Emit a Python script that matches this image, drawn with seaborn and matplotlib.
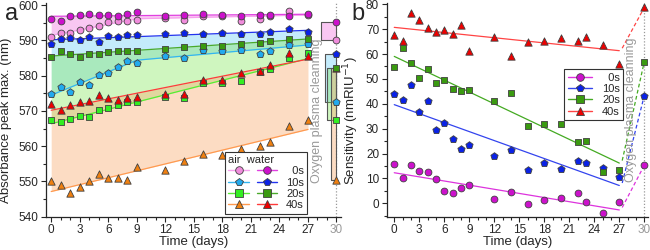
import numpy as np
import matplotlib
matplotlib.use("Agg")
import matplotlib.pyplot as plt
import seaborn as sns
from matplotlib.colors import to_rgba
from matplotlib.lines import Line2D
from matplotlib.legend_handler import HandlerTuple
from matplotlib.ticker import MultipleLocator

# measurement days and the day after oxygen plasma cleaning
days = [0, 1, 2, 3, 4, 5, 6, 7, 8, 9, 12, 14, 16, 18, 20, 22, 23, 25, 27]
clean_day = 30
labels = ["\u20070s", "10s", "20s", "40s"]

# (a) absorbance peak maximum (nm), stored in air / water
air_0s = [591.1, 592.0, 592.2, 593.0, 593.6, 594.1, 595.3, 595.5, 595.6, 595.8,
          596.4, 595.8, 597.0, 597.0, 595.6, 596.1, 596.9, 598.3, 597.3]
water_0s = [596.2, 595.4, 596.9, 597.2, 597.6, 597.2, 597.1, 596.9, 597.5, 598.0,
            596.9, 597.2, 597.4, 597.3, 597.0, 597.2, 597.2, 596.9, 597.5]
air_10s = [574.8, 576.9, 575.4, 578.1, 577.4, 580.2, 580.7, 582.4, 584.2, 583.6,
           585.6, 585.0, 587.4, 586.9, 587.3, 586.2, 587.1, 588.6, 589.0]
water_10s = [589.1, 590.5, 590.8, 590.1, 590.9, 589.6, 591.2, 591.1, 591.4, 591.4,
             591.7, 592.0, 591.9, 592.1, 591.8, 591.7, 592.4, 593.1, 592.5]
air_20s = [567.5, 566.9, 567.7, 568.6, 568.3, 570.3, 570.7, 571.7, 572.6, 572.4,
           574.0, 573.6, 578.0, 577.9, 578.4, 581.0, 582.0, 585.0, 586.4]
water_20s = [585.4, 587.1, 586.2, 585.2, 586.0, 586.0, 586.8, 586.9, 587.1, 587.1,
             587.6, 588.1, 588.4, 588.5, 588.9, 589.4, 589.8, 590.5, 590.5]
air_40s = [550.0, 549.0, 546.8, 548.4, 550.1, 552.0, 550.9, 550.9, 550.5, 554.0,
           553.3, 555.7, 557.9, 557.5, 559.3, 560.0, 561.2, 565.6, 567.5]
water_40s = [572.0, 570.3, 571.7, 572.4, 572.9, 574.5, 573.8, 573.1, 573.8, 573.9,
             574.9, 574.9, 578.9, 578.7, 580.7, 581.3, 582.9, 586.4, 585.7]
# after cleaning (0s, 10s, 20s, 40s)
air_after = [590.1, 572.4, 567.5, 550.3]
water_after = [595.3, 586.2, 582.2, 582.2]

# (b) sensitivity (nm/RIU)
sens_0s = [15.6, 10.3, 15.3, 13.1, 12.7, 9.6, 5.1, 4.3, 6.3, 7.3,
           1.6, 4.7, -0.4, 1.3, 2.0, 4.3, 0.7, -4.0, 0.7]
sens_10s = [44.0, 41.6, 47.6, 36.7, 41.3, 29.3, 32.3, 26.0, 22.0, 23.6,
            18.9, 21.6, 13.3, 16.0, 13.7, 16.9, 16.4, 14.3, 10.7]
sens_20s = [54.9, 62.4, 56.5, 50.4, 54.0, 48.3, 49.7, 46.0, 45.1, 45.6,
            41.3, 44.4, 30.9, 32.0, 32.0, 24.7, 25.1, 12.7, 13.3]
sens_40s = [67.6, 65.3, 76.4, 73.7, 70.4, 68.7, 69.7, 68.0, 71.6, 61.3,
            66.7, 59.3, 64.7, 65.3, 66.3, 65.1, 66.7, 63.6, 56.0]
sens_after = [15.3, 43.3, 56.9, 78.7]

# styles
markers = ["o", "p", "s", "^"]
msize = [24, 30, 20, 28]
air_face = ["#f08cdc", "#22aaee", "#33ee22", "#f08010"]
air_line = ["#f7a0ee", "#33b5f0", "#55ee33", "#ff9a50"]
water_face = ["#cc11cc", "#0a22e6", "#3a9a10", "#ee0000"]
water_line = ["#e040e0", "#2233ee", "#4aaa2a", "#ff3a3a"]
band = [to_rgba("#f59ae8", 0.55), to_rgba("#6ccdf5", 0.4),
        to_rgba("#77e84a", 0.35), to_rgba("#f9b27a", 0.45)]
box_left = [28.4, 28.75, 29.05, 29.4]
edge = "#404040"
gray = "#999999"


def linear_fit(x, y, xn):
    k, b = np.polyfit(x, y, 1)
    return k * xn + b


def hinge_fit(x, y, xn, knot=9):
    x = np.asarray(x, float)
    A = np.column_stack([np.ones_like(x), x, np.clip(x - knot, 0, None)])
    c, *_ = np.linalg.lstsq(A, np.asarray(y, float), rcond=None)
    return c[0] + c[1] * xn + c[2] * np.clip(xn - knot, 0, None)


def scatter(ax, x, y, m, c, s, z=4):
    sns.scatterplot(x=x, y=y, ax=ax, marker=m, color=c, edgecolor=edge,
                    linewidth=0.6, s=s, zorder=z, legend=False)


def style_axis(ax):
    sns.despine(ax=ax)
    ax.xaxis.set_major_locator(MultipleLocator(3))
    ax.xaxis.set_minor_locator(MultipleLocator(1))
    ax.tick_params(which="both", direction="out", width=0.8, labelsize=8.5,
                   pad=2)
    ax.tick_params(which="major", length=3.5)
    ax.tick_params(which="minor", length=2)
    for s in ("left", "bottom"):
        ax.spines[s].set_linewidth(0.9)
    ax.axvline(clean_day, color=gray, ls=(0, (1, 1.5)), lw=0.9, zorder=0)
    ax.set_xticks(range(0, 31, 3))
    ax.get_xticklabels()[-1].set_color(gray)
    ax.set_xlabel("Time (days)", fontsize=9.5, labelpad=0)


sns.set_style("ticks")
plt.rcParams["font.family"] = ["Liberation Sans", "DejaVu Sans"]

fig = plt.figure(figsize=(6.5, 2.5), dpi=100)
ax_a = fig.add_axes([0.071, 0.133, 0.454, 0.855])
ax_b = fig.add_axes([0.595, 0.133, 0.402, 0.855])

# ---- panel a ----
t = np.linspace(0, 27, 200)
air_a = [air_0s, air_10s, air_20s, air_40s]
water_a = [water_0s, water_10s, water_20s, water_40s]
for i in range(4):
    fit = hinge_fit if i < 2 else linear_fit
    ya = fit(days, air_a[i], t)
    yw = linear_fit(days, water_a[i], t)
    ax_a.fill_between(t, ya, yw, color=band[i], lw=0, zorder=1)
    ax_a.plot(t, ya, color=air_line[i], lw=0.9, zorder=2)
    ax_a.plot(t, yw, color=water_line[i], lw=0.9, zorder=2)

for i in range(4):
    ax_a.fill_between([box_left[i], clean_day], air_after[i], water_after[i],
                      facecolor=band[i], edgecolor="#555555", lw=0.8, zorder=2)

for i in range(4):
    scatter(ax_a, days, air_a[i], markers[i], air_face[i], msize[i])
    scatter(ax_a, days, water_a[i], markers[i], water_face[i], msize[i])
for i in [3, 0, 1, 2]:
    scatter(ax_a, [clean_day], [water_after[i]], markers[i], water_face[i], msize[i], 5)
    scatter(ax_a, [clean_day], [air_after[i]], markers[i], air_face[i], msize[i], 5)

ax_a.text(27.9, 570, "Oxygen plasma cleanning", rotation=90, ha="center",
          va="center", color=gray, fontsize=9)
ax_a.set_xlim(-0.53, 30.5)
ax_a.set_ylim(540, 600.6)
ax_a.yaxis.set_major_locator(MultipleLocator(10))
ax_a.yaxis.set_minor_locator(MultipleLocator(5))
style_axis(ax_a)
ax_a.set_ylabel("Absorbance peak max. (nm)", fontsize=9.5, labelpad=2)
ax_a.yaxis.set_label_coords(-0.115, 0.45)

handles = []
for i in range(4):
    ha = Line2D([], [], color=air_line[i], lw=1, marker=markers[i],
                mfc=air_face[i], mec=edge, mew=0.6, ms=5.5)
    hw = Line2D([], [], color=water_line[i], lw=1, marker=markers[i],
                mfc=water_face[i], mec=edge, mew=0.6, ms=5.5)
    handles.append((ha, hw))
leg = ax_a.legend(handles, labels,
                  handler_map={tuple: HandlerTuple(ndivide=None, pad=0.7)},
                  title="air  water", alignment="left",
                  loc="lower right", bbox_to_anchor=(0.885, 0.015),
                  handlelength=4.4, fontsize=8, title_fontsize=8,
                  fancybox=False, edgecolor="#333333", framealpha=1,
                  labelspacing=0.12, borderpad=0.3, handletextpad=0.8,
                  borderaxespad=0)
leg.get_frame().set_linewidth(0.8)
leg.set_zorder(6)

# ---- panel b ----
sens = [sens_0s, sens_10s, sens_20s, sens_40s]
b_line = ["#dd33dd", "#3344ee", "#44aa22", "#ff4444"]
for i in range(4):
    yf = linear_fit(days, sens[i], t)
    ax_b.plot(t, yf, color=b_line[i], lw=0.9, zorder=2)
    end = linear_fit(days, sens[i], np.array([27.0]))[0]
    ax_b.plot([27.35, clean_day], [end + 1, sens_after[i]], color=b_line[i],
              lw=0.9, ls=(0, (3, 2)), zorder=2)
    scatter(ax_b, days, sens[i], markers[i], water_face[i], msize[i])
    scatter(ax_b, [clean_day], [sens_after[i]], markers[i], water_face[i], msize[i])

ax_b.text(28.4, 37.5, "Oxygen plasma cleanning", rotation=90, ha="center",
          va="center", color=gray, fontsize=9)
ax_b.set_xlim(-0.9, 30.45)
ax_b.set_ylim(-5.4, 80.5)
ax_b.yaxis.set_major_locator(MultipleLocator(10))
ax_b.yaxis.set_minor_locator(MultipleLocator(5))
style_axis(ax_b)
ax_b.set_ylabel("Sensitivity (nmRIU$^{-1}$)", fontsize=9.5, labelpad=2)
ax_b.yaxis.set_label_coords(-0.1, 0.45)

hb = [Line2D([], [], color=b_line[i], lw=1, marker=markers[i], mfc=water_face[i],
             mec=edge, mew=0.6, ms=5.5) for i in range(4)]
leg_b = ax_b.legend(hb, labels, loc="upper right", bbox_to_anchor=(0.905, 0.69),
                    handlelength=2.2, fontsize=8, fancybox=False,
                    edgecolor="#333333", framealpha=1, labelspacing=0.12,
                    borderpad=0.3, handletextpad=0.9, borderaxespad=0)
leg_b.get_frame().set_linewidth(0.8)
leg_b.set_zorder(6)

fig.text(0.008, 0.945, "a", fontsize=17, va="center")
fig.text(0.541, 0.945, "b", fontsize=17, va="center")

fig.savefig("out.png", dpi=100)
